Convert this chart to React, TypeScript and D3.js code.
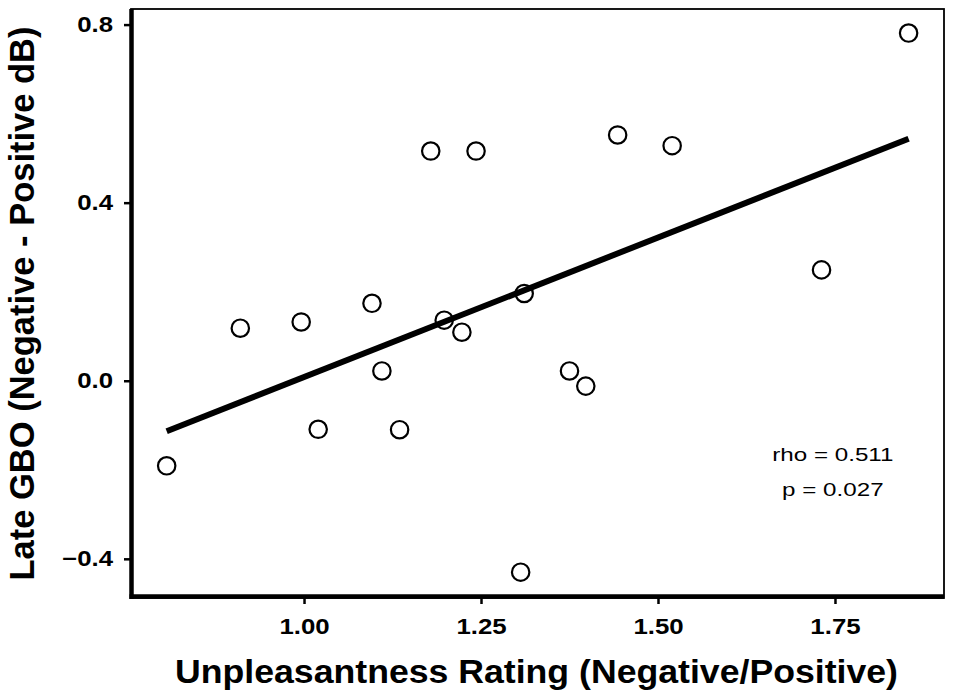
import * as d3 from 'd3';
import { useEffect, useRef } from 'react';

// unpleasantness rating (negative/positive) per subject
const ratings = [
  0.806, 0.91, 0.996, 1.02, 1.096, 1.11, 1.135, 1.179, 1.198, 1.223,
  1.243, 1.311, 1.375, 1.398, 1.443, 1.52, 1.306, 1.731, 1.854,
];
// late GBO difference (negative - positive, dB)
const gbo = [
  -0.191, 0.118, 0.132, -0.109, 0.174, 0.022, -0.11, 0.516, 0.136, 0.109,
  0.516, 0.196, 0.022, -0.012, 0.552, 0.528, -0.43, 0.249, 0.781,
];

const xTicks = [1.0, 1.25, 1.5, 1.75];
const yTicks = [-0.4, 0.0, 0.4, 0.8];
const statLines = ['rho = 0.511', 'p = 0.027'];

const W = 957;
const H = 697;
const margin = { top: 9, right: 13, bottom: 99, left: 131 };
const FONT = "'Liberation Sans', Arial, Helvetica, sans-serif";

// the source figure's lettering is a bit wider than Liberation Sans
function stretch(sel: d3.Selection<any, any, any, any>, sx: number) {
  sel.each(function () {
    const n = this as SVGTextElement;
    const w = n.getComputedTextLength();
    n.setAttribute('textLength', String(w * sx));
    n.setAttribute('lengthAdjust', 'spacingAndGlyphs');
  });
}

export default function App() {
  const ref = useRef<SVGSVGElement>(null);

  useEffect(() => {
    if (!ref.current) return;
    const svg = d3.select(ref.current);
    svg.selectAll('*').remove();

    const iw = W - margin.left - margin.right;
    const ih = H - margin.top - margin.bottom;

    const x = d3.scaleLinear().domain([0.7556, 1.904]).range([0, iw]);
    const y = d3.scaleLinear().domain([-0.488, 0.835]).range([ih, 0]);

    const g = svg.append('g').attr('transform', `translate(${margin.left},${margin.top})`);

    // thin panel border
    g.append('rect')
      .attr('width', iw)
      .attr('height', ih)
      .attr('fill', 'none')
      .attr('stroke', '#000')
      .attr('stroke-width', 1.8);

    // linear fit
    const pts = ratings.map((r, i) => [r, gbo[i]] as [number, number]);
    const mx = d3.mean(ratings) ?? 0;
    const my = d3.mean(gbo) ?? 0;
    const sxy = d3.sum(pts, d => (d[0] - mx) * (d[1] - my));
    const sxx = d3.sum(pts, d => (d[0] - mx) ** 2);
    const slope = sxy / sxx;
    const icpt = my - slope * mx;
    const [x0, x1] = d3.extent(ratings) as [number, number];

    const line = d3.line<number>()
      .x(d => x(d))
      .y(d => y(icpt + slope * d));

    g.append('path')
      .datum([x0, x1])
      .attr('fill', 'none')
      .attr('stroke', '#000')
      .attr('stroke-width', 6)
      .attr('d', line);

    // points
    g.append('g')
      .selectAll('circle')
      .data(pts)
      .join('circle')
      .attr('cx', d => x(d[0]))
      .attr('cy', d => y(d[1]))
      .attr('r', 8.7)
      .attr('fill', 'none')
      .attr('stroke', '#000')
      .attr('stroke-width', 2.2);

    // axes
    const xAxis = g.append('g')
      .attr('transform', `translate(0,${ih})`)
      .call(d3.axisBottom(x).tickValues(xTicks).tickFormat(d3.format('.2f')).tickSize(6).tickPadding(15));
    const yAxis = g.append('g')
      .call(d3.axisLeft(y).tickValues(yTicks).tickFormat(d3.format('.1f')).tickSize(7).tickPadding(11));

    [xAxis, yAxis].forEach(a => {
      a.select('.domain').remove();
      a.selectAll('line').attr('stroke', '#000').attr('stroke-width', 2.5);
      const t = a.selectAll('text')
        .attr('fill', '#000')
        .attr('font-family', FONT)
        .attr('font-weight', 'bold')
        .attr('font-size', 21.5);
      stretch(t, 1.2);
    });

    // thick axis lines
    g.append('line')
      .attr('x1', 0.5).attr('x2', 0.5).attr('y1', 0).attr('y2', ih + 1)
      .attr('stroke', '#000').attr('stroke-width', 4.5);
    g.append('line')
      .attr('x1', -1.5).attr('x2', iw).attr('y1', ih - 1.5).attr('y2', ih - 1.5)
      .attr('stroke', '#000').attr('stroke-width', 4.5);

    // stats annotation
    const stats = g.append('g')
      .selectAll('text')
      .data(statLines)
      .join('text')
      .attr('x', x(1.747))
      .attr('y', (_, i) => y(-0.18) + i * 35.5)
      .attr('text-anchor', 'middle')
      .attr('font-family', FONT)
      .attr('font-size', 18.6)
      .text(d => d);
    stretch(stats, 1.3);

    // axis titles
    const xt = svg.append('text')
      .attr('x', margin.left + iw / 2 - 1)
      .attr('y', 683)
      .attr('text-anchor', 'middle')
      .attr('font-family', FONT)
      .attr('font-weight', 'bold')
      .attr('font-size', 33)
      .text('Unpleasantness Rating (Negative/Positive)');
    stretch(xt, 1.08);

    svg.append('text')
      .attr('transform', `translate(34,${margin.top + ih / 2}) rotate(-90)`)
      .attr('text-anchor', 'middle')
      .attr('font-family', FONT)
      .attr('font-weight', 'bold')
      .attr('font-size', 34.5)
      .text('Late GBO (Negative - Positive dB)');
  }, []);

  return (
    <div style={{ position: 'fixed', top: 0, left: 0, background: '#fff' }}>
      <svg ref={ref} width={W} height={H} viewBox={`0 0 ${W} ${H}`} style={{ display: 'block' }} />
    </div>
  );
}
